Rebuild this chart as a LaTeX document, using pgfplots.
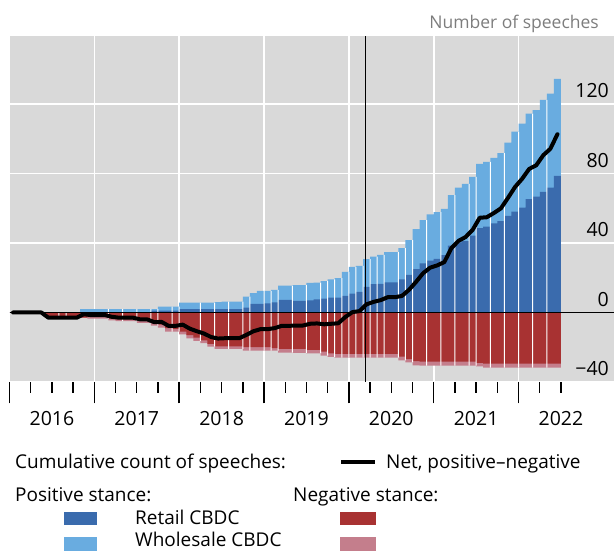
\documentclass[border=0pt]{standalone}
\usepackage{fontspec}
\setmainfont{Open Sans}
\usepackage{pgfplots}
\usepackage{pgfplotstable}
\pgfplotsset{compat=1.18}
\definecolor{bgray}{RGB}{217,217,217}
\definecolor{rblue}{RGB}{58,107,173}
\definecolor{wblue}{RGB}{105,172,224}
\definecolor{nred}{RGB}{168,50,50}
\definecolor{npink}{RGB}{196,126,140}
\definecolor{lgray}{RGB}{125,125,125}

% x = month index (0 = Jan 2016) + 0.5; pos = all positive; ret = positive retail;
% neg = all negative; negr = negative retail; net = positive - negative
\pgfplotstableread{
x pos ret neg negr net
0.5 0 0 0 0 0
1.5 0 0 0 0 0
2.5 0 0 0 0 0
3.5 0 0 0 0 0
4.5 0 0 0 0 0
5.5 0 0 -3 -3 -3
6.5 0 0 -3 -3 -3
7.5 0 0 -3 -3 -3
8.5 0 0 -3 -3 -3
9.5 0 0 -3 -3 -3
10.5 2 0 -3 -3 -1
11.5 2 0 -3.5 -2.5 -1.5
12.5 2 0 -3.5 -2.5 -1.5
13.5 2 0 -3.5 -2.5 -1.5
14.5 2 0 -4.5 -3.5 -2.5
15.5 2 0 -5 -4 -3
16.5 2 0 -5 -4 -3
17.5 2 0 -5 -4 -3
18.5 2 0 -6 -4.5 -4
19.5 2 0 -6 -4.5 -4
20.5 2 1 -7.6 -6 -5.6
21.5 3.3 1 -8.7 -7 -5.4
22.5 3.3 1 -11 -9 -7.7
23.5 3.3 1 -11 -9.5 -7.7
24.5 5.6 2 -12.6 -11 -7
25.5 5.6 2 -14.9 -13 -9.3
26.5 5.6 2 -16.4 -14.5 -10.8
27.5 5.6 2 -17.7 -16 -12.1
28.5 5.6 2 -19.7 -18 -14.1
29.5 6 2 -21 -19.5 -15
30.5 6.2 2 -21 -19.5 -14.8
31.5 6.2 2 -21 -19.5 -14.8
32.5 6.2 2 -21 -19.5 -14.8
33.5 9.1 2.8 -22 -20 -12.9
34.5 11.2 4.9 -22 -20 -10.8
35.5 12.4 4.9 -22 -20 -9.6
36.5 12.4 5.2 -22 -20 -9.6
37.5 13 5.8 -22 -20.5 -9
38.5 15.4 7.2 -23.1 -21 -7.7
39.5 15.4 7.2 -23.1 -21 -7.7
40.5 15.8 6.7 -23.3 -21 -7.5
41.5 15.8 6.7 -23.3 -21 -7.5
42.5 17 7 -23.5 -21.5 -6.5
43.5 17.2 7.5 -23.5 -21.5 -6.3
44.5 18 8 -24.8 -22.5 -6.8
45.5 19 8.5 -25.5 -23.5 -6.5
46.5 19.8 8.5 -26 -23.8 -6.2
47.5 23.4 9.5 -26 -23.8 -2.6
48.5 26.2 10.8 -26 -23.8 0.2
49.5 26.8 11.8 -26 -23.8 0.8
50.5 30.7 14.8 -26 -23.8 4.7
51.5 32.1 16.3 -26 -23.8 6.1
52.5 33.1 16.5 -26 -23.8 7.1
53.5 34.8 17.3 -26 -23.8 8.8
54.5 34.8 17.3 -26 -23.8 8.8
55.5 37 19 -27.5 -25.4 9.5
56.5 41.7 21.6 -28.7 -26.8 13
57.5 48 25 -30.4 -28 17.6
58.5 53.2 28.3 -30.6 -28.3 22.6
59.5 56.4 29.8 -30.6 -28.3 25.8
60.5 57.7 30.8 -30.6 -28.3 27.1
61.5 59.6 33 -30.6 -28.3 29
62.5 67.6 38.5 -30.6 -28.3 37
63.5 71.8 40.4 -30.6 -28.3 41.2
64.5 74 41 -30.6 -28.3 43.4
65.5 78.1 44.2 -30.6 -28.3 47.5
66.5 85.5 48.6 -31 -29 54.5
67.5 86.6 49.4 -31.8 -29.4 54.8
68.5 89 51.3 -31.8 -29.4 57.2
69.5 91.7 52.6 -31.8 -29.4 59.9
70.5 97.7 55.6 -31.8 -29.4 65.9
71.5 104 58 -31.8 -29.4 72.2
72.5 108.7 60.3 -31.8 -29.4 76.9
73.5 114.4 65.3 -31.8 -29.4 82.6
74.5 116.5 66.7 -31.8 -29.4 84.7
75.5 122.3 69.4 -31.8 -29.4 90.5
76.5 126 71.8 -31.8 -29.4 94.2
77.5 134.4 78.6 -31.8 -29.4 102.6
}\datatable

% white separators between bars (positive and negative side)
\pgfplotstableread{
x top
14 2
16 2
18 2
20 2
21 2
23 3.3
24 3.3
27 5.6
29 5.6
31 6.2
33 6.2
34 9.1
36 12.4
37 12.4
38 13
40 15.4
42 15.8
44 17.2
45 18
46 19
47 19.8
48 23.4
49 26.2
50 26.8
51 30.7
52 32.1
53 33.1
55 34.8
56 37
57 41.7
59 53.2
61 57.7
63 67.6
65 74
66 78.1
68 86.6
70 91.7
72 104
74 114.4
76 122.3
}\seppos
\pgfplotstableread{
x bot
7 -3
8 -3
14 -3.5
16 -5
18 -5
20 -6
21 -7.6
23 -11
24 -11
27 -16.4
29 -19.7
31 -21
33 -21
34 -22
36 -22
37 -22
38 -22
40 -23.1
42 -23.3
44 -23.5
45 -24.8
46 -25.5
47 -26
48 -26
49 -26
50 -26
51 -26
52 -26
53 -26
55 -26
56 -27.5
57 -28.7
59 -30.6
61 -30.6
63 -30.6
65 -30.6
66 -30.6
68 -31.8
70 -31.8
72 -31.8
74 -31.8
76 -31.8
}\sepneg

\begin{document}
\begin{tikzpicture}
\path[use as bounding box] (0pt,0pt) rectangle (614pt,551pt);
\begin{axis}[
  at={(9.5pt,169pt)}, anchor=south west,
  width=604.5pt, height=346pt, scale only axis,
  xmin=0, xmax=85.5, ymin=-40, ymax=159.1,
  axis background/.style={fill=bgray},
  axis line style={draw=none},
  xtick={6,18,30,42,54,66,78},
  xticklabels={2016,2017,2018,2019,2020,2021,2022},
  minor xtick={0,3,...,78},
  extra x ticks={0,12,24,36,48,60,72},
  extra x tick labels={},
  extra x tick style={grid=major, major tick length=21.5pt},
  major tick length=0pt, minor tick length=11pt,
  tick align=outside,
  xtick pos=left,
  xtick style={black, line width=1.4pt},
  ytick={-40,0,40,80,120},
  yticklabels={−40,0,40,80,120},
  ytick style={draw=none},
  yticklabel pos=right,
  ymajorgrids,
  major grid style={white, line width=1.6pt},
  xticklabel style={font=\fontsize{19.5}{20}\selectfont, anchor=base, inner sep=0pt, yshift=-44pt},
  yticklabel style={font=\fontsize{19.5}{20}\selectfont, anchor=base east, inner sep=0pt, xshift=-5pt, yshift=6pt},
]
\addplot[ybar, bar width=1, bar shift=0pt, fill=wblue, draw=none] table[x=x,y=pos]{\datatable};
\addplot[ybar, bar width=1, bar shift=0pt, fill=rblue, draw=none] table[x=x,y=ret]{\datatable};
\addplot[ybar, bar width=1, bar shift=0pt, fill=npink, draw=none] table[x=x,y=neg]{\datatable};
\addplot[ybar, bar width=1, bar shift=0pt, fill=nred, draw=none] table[x=x,y=negr]{\datatable};
\addplot[ybar, bar width=1pt, bar shift=0pt, fill=white, draw=none] table[x=x,y=top]{\seppos};
\addplot[ybar, bar width=1pt, bar shift=0pt, fill=white, draw=none] table[x=x,y=bot]{\sepneg};
\draw[black, line width=1.2pt] (axis cs:0,0) -- (axis cs:85.5,0);
\draw[black, line width=1.2pt] (axis cs:50.33,-40) -- (axis cs:50.33,159.1);
\addplot[black, line width=4pt, line join=round, line cap=round, mark=none] table[x=x,y=net]{\datatable};
\end{axis}
\node[anchor=base east, inner sep=0pt, text=lgray, font=\fontsize{17.5}{20}\selectfont] at (599pt,522pt) {Number of speeches};
\begin{scope}[every node/.style={anchor=base west, inner sep=0pt, font=\fontsize{19}{22}\selectfont}]
\node at (15pt,82pt) {Cumulative count of speeches:};
\draw[black, line width=4pt] (341pt,89pt) -- (374.5pt,89pt);
\node at (386pt,82pt) {Net, positive–negative};
\node at (15pt,49pt) {Positive stance:};
\node at (293pt,49pt) {Negative stance:};
\fill[rblue] (63.5pt,26pt) rectangle (97pt,39pt);
\fill[nred] (340pt,26pt) rectangle (376pt,39pt);
\node at (135pt,26pt) {Retail CBDC};
\fill[wblue] (63.5pt,0pt) rectangle (97pt,14pt);
\fill[npink] (340pt,0pt) rectangle (376pt,14pt);
\node at (135pt,4pt) {Wholesale CBDC};
\end{scope}
\end{tikzpicture}
\end{document}
